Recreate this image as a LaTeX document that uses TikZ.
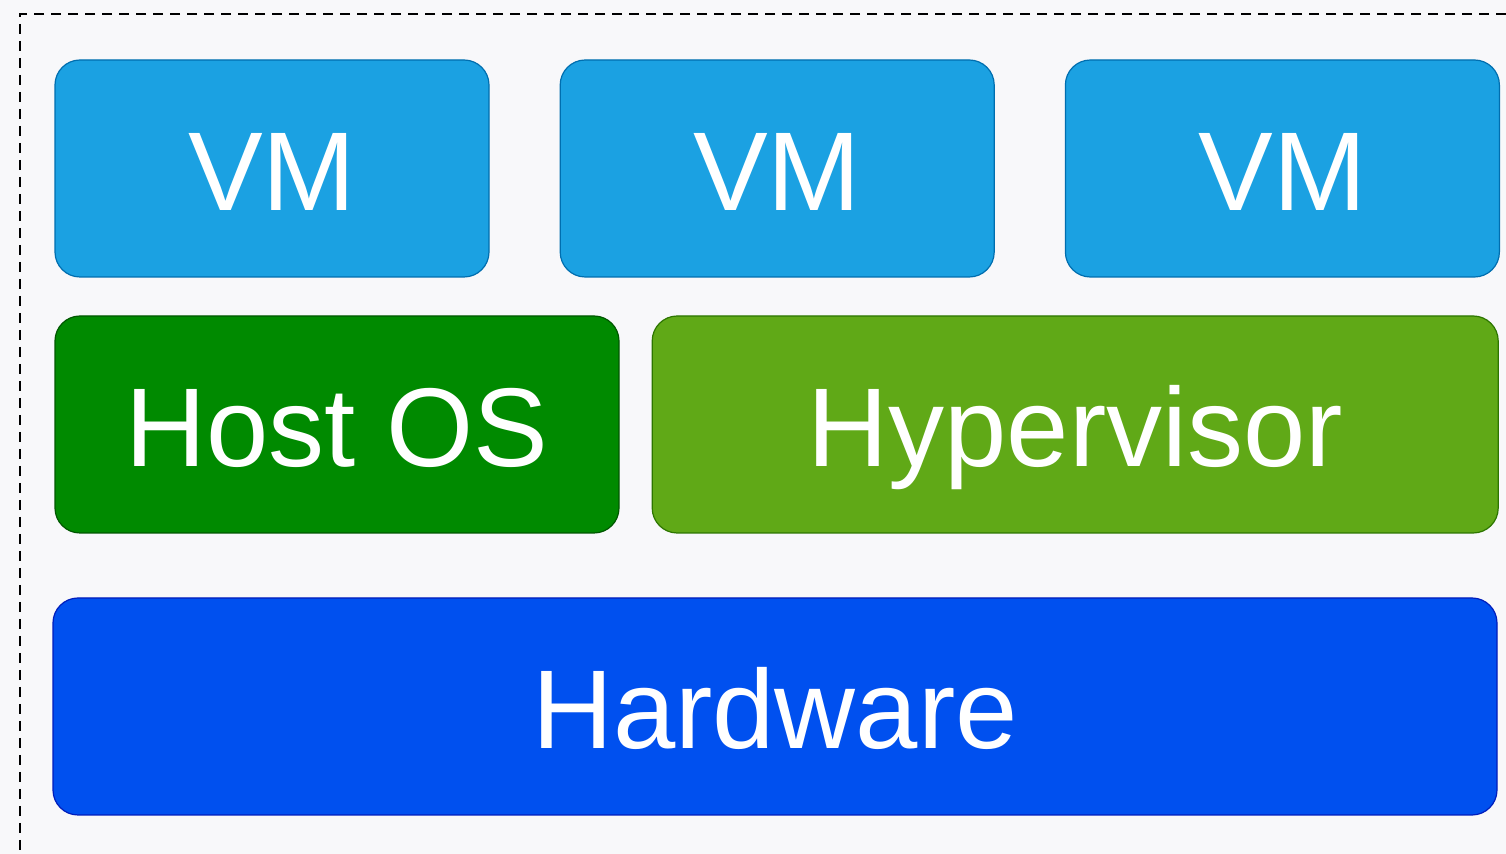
\documentclass[tikz,border=0pt]{standalone}
\usepackage{fontspec}
\setmainfont{Liberation Sans}
\usetikzlibrary{positioning}
\definecolor{vmfill}{HTML}{1BA1E2}
\definecolor{vmline}{HTML}{006EAF}
\definecolor{hostfill}{HTML}{008A00}
\definecolor{hostline}{HTML}{005700}
\definecolor{hypfill}{HTML}{60A917}
\definecolor{hypline}{HTML}{2D7600}
\definecolor{hwfill}{HTML}{0050EF}
\definecolor{hwline}{HTML}{001DBC}
\definecolor{bgcolor}{HTML}{F8F8FA}
\begin{document}
\begin{tikzpicture}[layer/.style={draw, line width=0.6pt, rounded corners=12.5pt,
      text=white, font=\fontsize{56}{60}\selectfont, inner sep=0pt,
      text height=50pt, text depth=8pt, minimum height=108.5pt}]
    \fill[bgcolor] (0pt,0pt) rectangle (753pt,-427pt);
    \useasboundingbox (0pt,0pt) rectangle (753pt,-427pt);
    \draw[line width=1pt, dash pattern=on 5pt off 3.5pt] (753pt,-7pt) -- (10pt,-7pt) -- (10pt,-427pt);
    \node[layer, fill=vmfill, draw=vmline, minimum width=217pt] (vma) at (136pt,-84.25pt) {VM};
    \node[layer, fill=vmfill, draw=vmline, minimum width=217pt, right=35pt of vma] (vmb) {VM};
    \node[layer, fill=vmfill, draw=vmline, minimum width=217pt, right=35pt of vmb] (vmc) {VM};
    \node[layer, fill=hostfill, draw=hostline, minimum width=282pt] (host) at (168.5pt,-212.25pt) {Host OS};
    \node[layer, fill=hypfill, draw=hypline, minimum width=423pt, right=16pt of host] (hyp) {Hypervisor};
    \node[layer, fill=hwfill, draw=hwline, minimum width=722pt] (hw) at (387.5pt,-353.25pt) {Hardware};
  \end{tikzpicture}
\end{document}
